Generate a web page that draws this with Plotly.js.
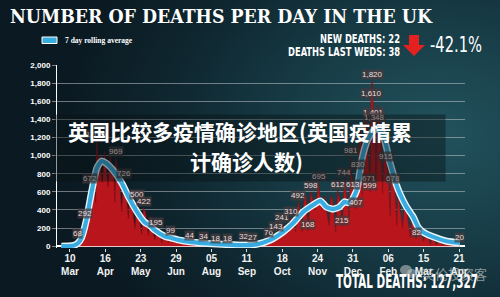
<!DOCTYPE html>
<html><head><meta charset="utf-8">
<script src="https://cdn.plot.ly/plotly-3.0.1.min.js"></script>
<style>
html,body{margin:0;padding:0;width:500px;height:297px;overflow:hidden;}
body{background: radial-gradient(ellipse 75% 95% at 88% 45%, #22525d 0%, #173c46 40%, #0f2730 72%, #0b1a22 100%);}
#chart{width:500px;height:297px;}
</style></head><body><div id="chart"></div>
<script>
// 7-day rolling average
const avgDates = ['2020-03-01','2020-03-09','2020-03-14','2020-03-18','2020-03-22','2020-03-27','2020-04-02','2020-04-07','2020-04-12','2020-04-17','2020-04-24','2020-05-03','2020-05-11','2020-05-20','2020-05-27','2020-06-02','2020-06-07','2020-06-17','2020-06-25','2020-07-01','2020-07-16','2020-08-01','2020-08-21','2020-09-10','2020-09-21','2020-10-05','2020-10-19','2020-10-29','2020-11-09','2020-11-19','2020-11-27','2020-12-03','2020-12-10','2020-12-17','2020-12-22','2020-12-26','2020-12-30','2021-01-04','2021-01-07','2021-01-10','2021-01-14','2021-01-19','2021-01-25','2021-01-30','2021-02-04','2021-02-07','2021-02-11','2021-02-14','2021-02-18','2021-02-25','2021-03-04','2021-03-09','2021-03-14','2021-03-25','2021-04-08','2021-04-22'];
const avgValues = [0,1,8,30,90,280,620,860,940,915,840,700,530,365,265,225,175,110,88,70,45,30,18,12,20,66,158,250,379,453,500,434,409,434,490,480,508,619,803,987,1135,1245,1300,1263,1097,950,803,693,582,434,324,213,158,103,55,37];

// daily deaths (unlabelled days)
const dailyDates = ['2020-03-01','2020-03-08','2020-03-12','2020-03-15','2020-03-19','2020-03-21','2020-03-23','2020-03-24','2020-03-27','2020-03-29','2020-04-01','2020-04-03','2020-04-05','2020-04-06','2020-04-08','2020-04-10','2020-04-12','2020-04-13','2020-04-15','2020-04-17','2020-04-19','2020-04-21','2020-04-23','2020-04-25','2020-04-26','2020-04-29','2020-05-01','2020-05-03','2020-05-05','2020-05-08','2020-05-10','2020-05-12','2020-05-14','2020-05-17','2020-05-21','2020-05-24','2020-05-28','2020-05-31','2020-06-02','2020-06-04','2020-06-07','2020-06-10','2020-06-12','2020-06-14','2020-06-16','2020-06-19','2020-06-21','2020-06-26','2020-06-28','2020-06-30','2020-07-03','2020-07-06','2020-07-08','2020-07-10','2020-07-15','2020-07-19','2020-07-22','2020-07-25','2020-07-31','2020-08-03','2020-08-06','2020-08-12','2020-08-16','2020-08-19','2020-08-26','2020-08-30','2020-09-03','2020-09-10','2020-09-14','2020-09-20','2020-09-23','2020-09-27','2020-09-30','2020-10-06','2020-10-09','2020-10-14','2020-10-16','2020-10-20','2020-10-22','2020-10-25','2020-10-29','2020-11-01','2020-11-06','2020-11-08','2020-11-10','2020-11-12','2020-11-19','2020-11-22','2020-11-27','2020-11-29','2020-12-01','2020-12-03','2020-12-06','2020-12-08','2020-12-10','2020-12-13','2020-12-17','2020-12-24','2020-12-27','2021-01-02','2021-01-06','2021-01-08','2021-01-10','2021-01-12','2021-01-13','2021-01-15','2021-01-24','2021-01-26','2021-01-27','2021-01-29','2021-01-31','2021-02-02','2021-02-06','2021-02-08','2021-02-09','2021-02-13','2021-02-15','2021-02-16','2021-02-18','2021-02-21','2021-02-23','2021-02-26','2021-03-01','2021-03-03','2021-03-05','2021-03-09','2021-03-12','2021-03-15','2021-03-17','2021-03-20','2021-03-22','2021-03-24','2021-03-28','2021-03-31','2021-04-05','2021-04-08','2021-04-12','2021-04-14','2021-04-18','2021-04-22'];
const dailyValues = [0,2,5,14,30,50,90,160,230,260,560,700,620,480,950,1000,740,700,1050,880,650,1000,780,800,480,780,740,380,720,580,300,620,430,190,340,130,370,120,330,180,70,150,140,40,130,110,40,90,40,95,70,25,80,50,60,30,60,35,40,15,25,20,10,15,12,5,10,10,10,20,35,20,60,70,80,140,130,200,190,150,280,160,380,160,530,560,510,400,500,400,550,420,230,560,500,160,520,570,320,450,1040,1300,560,1240,1450,1280,610,1550,1450,1250,580,1200,800,330,850,600,230,600,450,200,520,340,100,330,230,230,170,50,140,100,20,100,20,50,10,50,7,40,10,25];

// daily deaths on labelled days
const labelDates = ['2020-03-18','2020-03-26','2020-03-31','2020-04-07','2020-04-27','2020-05-06','2020-05-19','2020-05-26','2020-06-08','2020-06-23','2020-07-13','2020-07-28','2020-08-09','2020-08-22','2020-09-07','2020-09-17','2020-10-04','2020-10-12','2020-10-18','2020-10-27','2020-11-04','2020-11-14','2020-11-17','2020-11-25','2020-12-15','2020-12-20','2020-12-22','2020-12-29','2020-12-31','2021-01-03','2021-01-05','2021-01-17','2021-01-18','2021-01-19','2021-01-20','2021-01-22','2021-01-23','2021-02-04','2021-02-11','2021-03-07','2021-04-21'];
const labelValues = [68,292,672,1166,969,726,500,422,195,99,44,34,18,18,32,27,76,143,241,310,492,168,598,695,612,215,744,981,613,407,830,671,599,1610,1820,1401,1348,915,678,82,20];

const tickDates = ['2020-03-10','2020-04-16','2020-05-23','2020-06-29','2020-08-05','2020-09-11','2020-10-18','2020-11-24','2020-12-31','2021-02-06','2021-03-15','2021-04-21'];
const tickLabels = ['10<br>Mar','16<br>Apr','23<br>May','29<br>Jun','05<br>Aug','11<br>Sep','18<br>Oct','24<br>Nov','31<br>Dec','06<br>Feb','15<br>Mar','21<br>Apr'];
const yTicks = [0,200,400,600,800,1000,1200,1400,1600,1800,2000];

const titleText = 'NUMBER OF DEATHS PER DAY IN THE UK';
const legendText = '7 day rolling average';
const newDeathsText = 'NEW DEATHS: 22';
const lastWedsText = 'DEATHS LAST WEDS: 38';
const changeText = '-42.1%';
const totalText = 'TOTAL DEATHS: 127,327';
const overlayLine1 = '英国比较多疫情确诊地区(英国疫情累';
const overlayLine2 = '计确诊人数)';
const wechatText = '英伦投资客';

// merge labelled and unlabelled daily points
const merged = dailyDates.map((d,i)=>[d,dailyValues[i]]).concat(labelDates.map((d,i)=>[d,labelValues[i]]));
merged.sort((a,b)=> a[0] < b[0] ? -1 : (a[0] > b[0] ? 1 : 0));

// plot area in pixels
const L=57, R=465, T=65, B=248;
const px = x => (x-L)/(R-L);
const py = y => (B-y)/(B-T);

const traces = [
  {x: merged.map(p=>p[0]), y: merged.map(p=>p[1]), type:'scatter', mode:'lines',
   line:{color:'#8a0c11', width:0.6}, fill:'tozeroy', fillcolor:'#b8161c', hoverinfo:'skip'},
  {x: avgDates, y: avgValues, type:'scatter', mode:'lines',
   line:{color:'#e9f5f9', width:7, shape:'spline', smoothing:0.5}, hoverinfo:'skip'},
  {x: avgDates, y: avgValues, type:'scatter', mode:'lines',
   line:{color:'#38ace0', width:4.2, shape:'spline', smoothing:0.5}, hoverinfo:'skip'}
];

const narrow = 'Liberation Sans Narrow, DejaVu Sans Condensed, Liberation Sans, Arial';
const annotations = [];
labelDates.forEach((d,i)=>{
  annotations.push({x:d, y:labelValues[i], xref:'x', yref:'y', text: labelValues[i].toLocaleString('en-US'),
    showarrow:false, yanchor:'bottom', yshift:1, borderpad:0,
    bgcolor:'rgba(70,60,62,0.72)', font:{family:'Liberation Sans, Arial', size:8, color:'#ecdede'}});
});
// dark overlay box (covers traces and labels)
annotations.push({xref:'paper', yref:'paper', x:px(250), y:py(148), xanchor:'center', yanchor:'middle',
  text:'\u00a0', width:390, height:66, bgcolor:'rgba(6,16,20,0.42)', showarrow:false, borderpad:0});
annotations.push({xref:'paper', yref:'paper', x:px(239.5), y:py(131), xanchor:'center', yanchor:'middle',
  text:overlayLine1, showarrow:false, font:{family:'Noto Sans CJK SC', size:21, color:'#ffffff', weight:'bold'}});
annotations.push({xref:'paper', yref:'paper', x:px(246), y:py(161), xanchor:'center', yanchor:'middle',
  text:overlayLine2, showarrow:false, font:{family:'Noto Sans CJK SC', size:21, color:'#ffffff', weight:'bold'}});
// header texts
annotations.push({xref:'paper', yref:'paper', x:px(63), y:py(40.5), xanchor:'left', yanchor:'middle',
  text:legendText, showarrow:false, font:{family:'Liberation Serif, serif', size:7.5, color:'#ffffff', weight:'bold'}});
annotations.push({xref:'paper', yref:'paper', x:px(360), y:py(38.5), xanchor:'center', yanchor:'middle',
  text:newDeathsText, showarrow:false, font:{family:narrow, size:13, color:'#ffffff', weight:'bold'}});
annotations.push({xref:'paper', yref:'paper', x:px(344), y:py(51.5), xanchor:'center', yanchor:'middle',
  text:lastWedsText, showarrow:false, font:{family:narrow, size:13, color:'#ffffff', weight:'bold'}});
annotations.push({xref:'paper', yref:'paper', x:px(456), y:py(45), xanchor:'center', yanchor:'middle',
  text:changeText, showarrow:false, font:{family:narrow, size:21, color:'#ffffff'}});
annotations.push({xref:'paper', yref:'paper', x:px(407), y:py(281), xanchor:'center', yanchor:'middle',
  text:totalText, showarrow:false, font:{family:narrow, size:20, color:'#ffffff', weight:'bold'}});
annotations.push({xref:'paper', yref:'paper', x:px(420), y:py(273), xanchor:'left', yanchor:'middle',
  text:wechatText, showarrow:false, font:{family:'Noto Sans CJK SC', size:13, color:'rgba(215,215,215,0.62)'}});

function path(pts){ return 'M ' + pts.map(p=>px(p[0])+','+py(p[1])).join(' L ') + ' Z'; }
const shapes = [
  {type:'rect', xref:'paper', yref:'paper', x0:px(42), x1:px(57), y0:py(37), y1:py(43.5),
   fillcolor:'#39ace0', line:{color:'#ffffff', width:1}},
  {type:'path', xref:'paper', yref:'paper', path: path([[409,35],[419,35],[419,45],[425,45],[414,56],[403,45],[409,45]]),
   fillcolor:'#e3221f', line:{width:0}},
  {type:'circle', xref:'paper', yref:'paper', x0:px(400), x1:px(412), y0:py(265), y1:py(275),
   fillcolor:'rgba(215,215,215,0.5)', line:{width:0}},
  {type:'circle', xref:'paper', yref:'paper', x0:px(407), x1:px(417), y0:py(269), y1:py(278),
   fillcolor:'rgba(215,215,215,0.45)', line:{width:0}}
];

const layout = {
  width:500, height:297,
  margin:{l:L, r:500-R, t:T, b:297-B, pad:0},
  paper_bgcolor:'rgba(0,0,0,0)', plot_bgcolor:'rgba(0,0,0,0)',
  showlegend:false,
  title:{text:titleText, x:10/500, xanchor:'left', y:1-17/297, yanchor:'middle', yref:'container',
    font:{family:'DejaVu Serif, serif', size:18.5, color:'#ffffff', weight:'bold'}},
  xaxis:{type:'date', range:['2020-02-25 10:00','2021-04-27 06:00'], tickvals:tickDates, ticktext:tickLabels,
    ticks:'outside', ticklen:3, tickcolor:'#dddddd', showgrid:false, zeroline:false, showline:false,
    ticklabelstandoff:-2,
    tickfont:{family:'Liberation Sans, Arial', size:10, color:'#f2f2f2', weight:'bold'}, fixedrange:true},
  yaxis:{range:[-20,2000], tickvals:yTicks, tickformat:',', ticks:'outside', ticklen:4,
    tickcolor:'rgba(200,205,208,0.6)', showgrid:true, gridcolor:'rgba(205,210,212,0.5)', gridwidth:1,
    zeroline:true, zerolinecolor:'#ffffff', zerolinewidth:1.5, showline:true, linecolor:'#ffffff', linewidth:1,
    tickfont:{family:'Liberation Sans, Arial', size:8, color:'#ffffff', weight:'bold'}, fixedrange:true},
  annotations: annotations,
  shapes: shapes
};

// condensed header texts: target width and left edge in pixels
const fitTexts = {};
fitTexts[titleText] = [422, 10];
fitTexts[newDeathsText] = [80, 320];
fitTexts[lastWedsText] = [112, 288];
fitTexts[changeText] = [52, 430];
fitTexts[totalText] = [142, 336];

Plotly.newPlot('chart', traces, layout, {displayModeBar:false, staticPlot:true}).then(()=>{
  const root = document.getElementById('chart').getBoundingClientRect();
  document.querySelectorAll('#chart svg text').forEach(t=>{
    const f = fitTexts[t.textContent];
    if (!f) return;
    t.setAttribute('textLength', f[0]);
    t.setAttribute('lengthAdjust', 'spacingAndGlyphs');
    const r = t.getBoundingClientRect();
    const dx = (root.left + f[1]) - r.left;
    const x0 = parseFloat(t.getAttribute('x') || '0');
    t.setAttribute('x', x0 + dx);
    t.querySelectorAll('tspan[x]').forEach(s=>s.setAttribute('x', parseFloat(s.getAttribute('x')) + dx));
  });
});
</script>
</body></html>
